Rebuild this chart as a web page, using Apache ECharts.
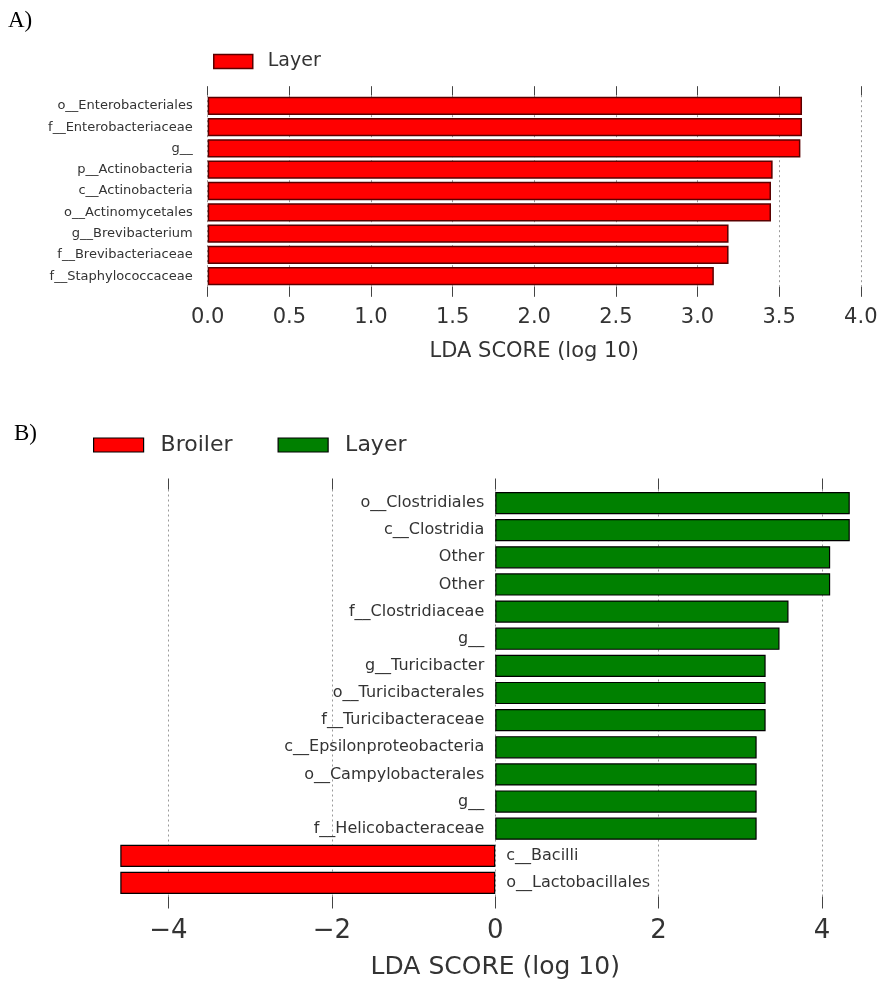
<!DOCTYPE html>
<html><head><meta charset="utf-8">
<script src="https://cdn.jsdelivr.net/npm/echarts@6/dist/echarts.min.js"></script>
<style>html,body{margin:0;padding:0;background:#fff}#c{width:881px;height:985px}</style>
</head><body><div id="c"></div>
<script>
// Panel A
const categoriesA = ['o__Enterobacteriales','f__Enterobacteriaceae','g__','p__Actinobacteria','c__Actinobacteria','o__Actinomycetales','g__Brevibacterium','f__Brevibacteriaceae','f__Staphylococcaceae'];
const layerA = [3.64, 3.64, 3.63, 3.46, 3.45, 3.45, 3.19, 3.19, 3.10];
const ticksA = [0, 0.5, 1.0, 1.5, 2.0, 2.5, 3.0, 3.5, 4.0];
// Panel B
const categoriesB = ['o__Clostridiales','c__Clostridia','Other','Other','f__Clostridiaceae','g__','g__Turicibacter','o__Turicibacterales','f__Turicibacteraceae','c__Epsilonproteobacteria','o__Campylobacterales','g__','f__Helicobacteraceae','c__Bacilli','o__Lactobacillales'];
const layerB = [4.34, 4.34, 4.10, 4.10, 3.59, 3.48, 3.31, 3.31, 3.31, 3.20, 3.20, 3.20, 3.20, '-', '-'];
const broilerB = ['-', '-', '-', '-', '-', '-', '-', '-', '-', '-', '-', '-', '-', -4.59, -4.59];
const ticksB = [-4, -2, 0, 2, 4];

const FONT = 'DejaVu Sans';
const RED = '#ff0000', GREEN = '#008000';
const chart = echarts.init(document.getElementById('c'));

const dotted = {show: true, lineStyle: {color: '#999', width: 1, type: [2, 3]}};
const tickStyle = {color: '#444', width: 1};

chart.setOption({
  animation: false,
  backgroundColor: '#fff',
  title: [
    {text: 'A)', left: 8, top: 9, padding: 0, textStyle: {fontFamily: 'Liberation Serif', fontSize: 23, fontWeight: 'normal', color: '#000'}},
    {text: 'B)', left: 14, top: 422, padding: 0, textStyle: {fontFamily: 'Liberation Serif', fontSize: 23, fontWeight: 'normal', color: '#000'}}
  ],
  legend: [
    {left: 213, top: 52, padding: 0, itemWidth: 39, itemHeight: 14, selectedMode: false, icon: 'rect',
     data: [{name: 'Layer', itemStyle: {color: RED, borderColor: '#5a0000', borderWidth: 1.5}}],
     textStyle: {fontFamily: FONT, fontSize: 19, color: '#333', padding: [0, 0, 0, 10]}},
    {left: 93, top: 434, padding: 0, itemWidth: 50, itemHeight: 14, itemGap: 45, selectedMode: false, icon: 'rect',
     data: [{name: 'Broiler', itemStyle: {color: RED, borderColor: '#000', borderWidth: 1.2}},
            {name: 'Layer', itemStyle: {color: GREEN, borderColor: '#000', borderWidth: 1.2}}],
     textStyle: {fontFamily: FONT, fontSize: 22, color: '#333', padding: [0, 0, 0, 12]}}
  ],
  grid: [
    {left: 207.7, right: 20.2, top: 95.2, height: 191.6, containLabel: false},
    {left: 168.5, right: 59, top: 489.5, height: 407, containLabel: false}
  ],
  xAxis: [
    {gridIndex: 0, type: 'value', position: 'bottom', min: 0, max: 4, interval: 0.5,
     name: 'LDA SCORE (log 10)', nameLocation: 'middle', nameGap: 54,
     nameTextStyle: {fontFamily: FONT, fontSize: 21, color: '#333'},
     axisLine: {show: false}, axisTick: {show: true, inside: false, length: 10, lineStyle: tickStyle},
     axisLabel: {fontFamily: FONT, fontSize: 21, color: '#333', margin: 20, formatter: v => v.toFixed(1)},
     splitLine: dotted},
    {gridIndex: 0, type: 'value', position: 'top', min: 0, max: 4, interval: 0.5,
     axisLine: {show: false}, axisTick: {show: true, inside: false, length: 9, lineStyle: tickStyle},
     axisLabel: {show: false}, splitLine: {show: false}},
    {gridIndex: 1, type: 'value', position: 'bottom', min: -4, max: 4, interval: 2,
     name: 'LDA SCORE (log 10)', nameLocation: 'middle', nameGap: 58,
     nameTextStyle: {fontFamily: FONT, fontSize: 25, color: '#333'},
     axisLine: {show: false}, axisTick: {show: true, inside: false, length: 12, lineStyle: tickStyle},
     axisLabel: {fontFamily: FONT, fontSize: 26, color: '#333', margin: 22, formatter: v => String(v).replace('-', '\u2212')},
     splitLine: dotted},
    {gridIndex: 1, type: 'value', position: 'top', min: -4, max: 4, interval: 2,
     axisLine: {show: false}, axisTick: {show: true, inside: false, length: 11, lineStyle: tickStyle},
     axisLabel: {show: false}, splitLine: {show: false}}
  ],
  yAxis: [
    {gridIndex: 0, type: 'category', inverse: true, data: categoriesA,
     axisLine: {show: false}, axisTick: {show: false},
     axisLabel: {fontFamily: FONT, fontSize: 13, color: '#333', margin: 15}},
    {gridIndex: 1, type: 'category', inverse: true, data: categoriesB,
     axisLine: {show: false}, axisTick: {show: false}, axisLabel: {show: false}}
  ],
  series: [
    {name: 'Layer', type: 'bar', xAxisIndex: 0, yAxisIndex: 0, data: layerA, barCategoryGap: '14%',
     itemStyle: {color: RED, borderColor: '#5a0000', borderWidth: 1.5}},
    {name: 'Broiler', type: 'bar', xAxisIndex: 2, yAxisIndex: 1, data: broilerB, barCategoryGap: '18%', barGap: '-100%', clip: false,
     itemStyle: {color: RED, borderColor: '#000', borderWidth: 1.2},
     label: {show: true, position: 'right', distance: 11, fontFamily: FONT, fontSize: 16, color: '#333',
             formatter: p => categoriesB[p.dataIndex]}},
    {name: 'Layer', type: 'bar', xAxisIndex: 2, yAxisIndex: 1, data: layerB, barCategoryGap: '18%', barGap: '-100%', clip: false,
     itemStyle: {color: GREEN, borderColor: '#000', borderWidth: 1.2},
     label: {show: true, position: 'left', distance: 11, fontFamily: FONT, fontSize: 16, color: '#333',
             formatter: p => categoriesB[p.dataIndex]}}
  ]
});
</script></body></html>
